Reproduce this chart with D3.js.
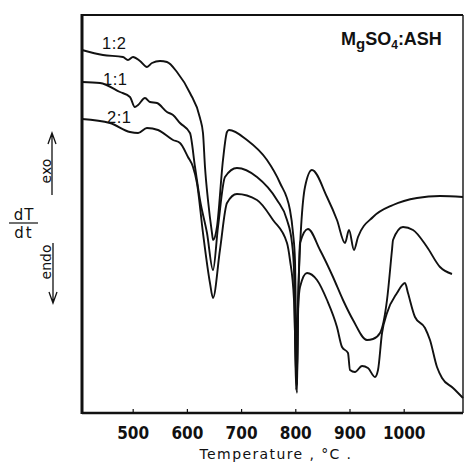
<!DOCTYPE html>
<html><head><meta charset="utf-8">
<script src="https://cdn.jsdelivr.net/npm/d3@7"></script>
<style>
html,body{margin:0;padding:0;background:#fff;}
svg{display:block;}
</style></head>
<body>
<svg id="c" width="464" height="472"></svg>
<script>
// ---- data (temperature °C, dT/dt in arbitrary units 0-100) ----
const tickLabels = [500, 600, 700, 800, 900, 1000];
const seriesNames = ["1:2", "1:1", "2:1"];
const title = "MgSO4:ASH";

const ratio12 = [
  [406.5,90.75],[445.2,89.5],[482,89],[491.3,88.25],[500.6,89],[513.5,88],[526.4,86.5],
  [535.6,87.5],[550.4,88],[563.3,87.75],[581.7,85.25],[605.7,80],[624.2,73.75],[629.7,70],
  [633.4,61.5],[638.9,53.25],[646.3,45],[648.2,43.25],[655.5,46.5],[666.6,63.25],[674,70.25],
  [677.7,70.75],[710.9,68.25],[747.8,63.25],[771.8,57.5],[790.2,50.75],[795.8,45],[799.4,38.25],
  [803.1,7],[805,28.25],[817.9,56.5],[830.8,60.75],[858.5,54],[876.9,48.25],[891.7,42.5],
  [899.1,45.75],[908.3,40.75],[915.7,44],[943.4,49],[980.3,52],[1024.5,53.75],[1067,54.25],[1109.4,54]
];
const ratio11 = [
  [406.5,82.75],[439.7,82.5],[476.6,80.25],[495,79],[504,76.5],[510,77],[522.7,78.75],[532,77.75],
  [544.8,77.5],[563.3,75.25],[574.4,74.5],[587.3,72.5],[605.7,70],[615,61.5],[624.2,53.25],
  [637.1,45],[648.2,35.75],[657.4,46.5],[670.3,59],[692.4,61.25],[729.3,59],[766.2,53.25],
  [784.7,48.25],[793.9,42.5],[797.6,35.75],[801.3,5.75],[808.7,42.5],[823.4,46],[845.6,40.75],
  [869.6,34],[888,28.25],[906.5,23.25],[932.3,18.25],[943.4,18.5],[956.3,20],[969.2,28.25],
  [978.4,40.75],[980.3,43.25],[998.7,46.5],[1017.2,45.75],[1043,41.5],[1067,36.5],[1089.1,34.75]
];
const ratio21 = [
  [406.5,73.5],[458,72.5],[495,70.25],[510,70],[526.4,71.25],[546.7,70.75],[574.4,68.25],
  [587.3,67.5],[602,64],[611.3,61.5],[618.6,57.5],[629.7,45],[642.6,32.5],[648.2,28.75],
  [661,40.75],[674,52.5],[692.4,54.75],[729.3,53.25],[758.9,48.25],[784.7,42.5],[790.2,38.25],
  [797.6,28.25],[803.1,5],[805,25.75],[808.7,31.5],[821.6,35],[840,33.25],[858.5,28.25],
  [876.9,21.5],[886.2,16.5],[897.2,15],[900.9,10.75],[910.1,10.25],[923.1,11.75],[934.1,11.25],
  [947,9],[952.6,10.75],[960,20],[969.2,25],[987.6,30],[1002.4,32.5],[1007.9,30],[1020.8,24],
  [1039.3,21.25],[1048.5,18.25],[1061.4,11.5],[1070.7,8.75],[1091,6.25],[1109.4,3.75]
];
const series = [ratio12, ratio11, ratio21];

// ---- layout ----
const svg = d3.select("#c");
const L = 82, R = 463, T = 15, B = 413;
const x = d3.scaleLinear().domain([406.5, 1109.4]).range([L, R]);
const y = d3.scaleLinear().domain([0, 100]).range([B, 13]);

const line = d3.line().x(d => x(d[0])).y(d => y(d[1])).curve(d3.curveMonotoneX);

svg.append("g").selectAll("path").data(series).join("path")
  .attr("d", line).attr("fill", "none").attr("stroke", "#111")
  .attr("stroke-width", 1.9).attr("stroke-linejoin", "round");

// frame
svg.append("line").attr("x1", L).attr("x2", R).attr("y1", T).attr("y2", T)
  .attr("stroke", "#111").attr("stroke-width", 2.2);
svg.append("line").attr("x1", R).attr("x2", R).attr("y1", T).attr("y2", B)
  .attr("stroke", "#111").attr("stroke-width", 1.4);
svg.append("line").attr("x1", L).attr("x2", L).attr("y1", T - 1).attr("y2", B + 1)
  .attr("stroke", "#111").attr("stroke-width", 3);

// bottom axis
const ax = svg.append("g").attr("transform", `translate(0,${B})`)
  .call(d3.axisBottom(x).tickValues(tickLabels).tickSize(-4).tickPadding(14).tickFormat(d3.format("d")));
ax.select(".domain").attr("stroke", "#111").attr("stroke-width", 2.6)
  .attr("d", `M${L},0H${R}`);
ax.selectAll(".tick line").attr("stroke", "#111").attr("stroke-width", 1.2);
ax.selectAll(".tick text").attr("fill", "#111")
  .style("font-family", "'Liberation Sans Narrow','DejaVu Sans Condensed','Liberation Sans',sans-serif")
  .style("font-weight", "bold").style("font-size", "17px");

// axis title
svg.append("text").attr("x", 276).attr("y", 459).attr("text-anchor", "middle")
  .style("font-family", "'DejaVu Sans',sans-serif").style("font-size", "14px")
  .style("letter-spacing", "1.4px").attr("fill", "#111").text("Temperature , °C .");

// series labels
const labelPos = [[102, 49], [103, 85], [107, 123]];
svg.append("g").selectAll("text").data(seriesNames).join("text")
  .attr("x", (d, i) => labelPos[i][0]).attr("y", (d, i) => labelPos[i][1])
  .style("font-family", "'Liberation Sans',sans-serif").style("font-size", "16.5px")
  .style("letter-spacing", "0.5px").attr("fill", "#111").text(d => d);

// title
const tt = svg.append("text").attr("x", 341).attr("y", 45).attr("fill", "#111")
  .style("font-family", "'Liberation Sans',sans-serif").style("font-weight", "bold").style("font-size", "18px");
tt.append("tspan").text("M");
tt.append("tspan").attr("dy", 4).style("font-size", "15px").text("g");
tt.append("tspan").attr("dy", -4).text("SO");
tt.append("tspan").attr("dy", 4).style("font-size", "12px").text("4");
tt.append("tspan").attr("dy", -4).text(":ASH");

// dT/dt label
const lf = "'DejaVu Sans',sans-serif";
svg.append("text").attr("x", 24).attr("y", 220).attr("text-anchor", "middle")
  .style("font-family", lf).style("font-size", "15px").style("letter-spacing", "1px").attr("fill", "#111").text("dT");
svg.append("line").attr("x1", 9).attr("x2", 38).attr("y1", 223).attr("y2", 223).attr("stroke", "#111").attr("stroke-width", 1.2);
svg.append("text").attr("x", 24).attr("y", 238).attr("text-anchor", "middle")
  .style("font-family", lf).style("font-size", "15px").style("letter-spacing", "2px").attr("fill", "#111").text("dt");

// exo / endo
svg.append("text").attr("transform", "translate(51,171) rotate(-90)").attr("text-anchor", "middle")
  .style("font-family", lf).style("font-size", "14px").attr("fill", "#111").text("exo");
svg.append("text").attr("transform", "translate(51,262) rotate(-90)").attr("text-anchor", "middle")
  .style("font-family", lf).style("font-size", "14px").attr("fill", "#111").text("endo");
const arrows = svg.append("g").attr("stroke", "#111").attr("stroke-width", 1.3).attr("fill", "none");
arrows.append("path").attr("d", "M52,195V134M48,144L52,133L56,144");
arrows.append("path").attr("d", "M53,243V302M49,292L53,303L57,292");
</script>
</body></html>
